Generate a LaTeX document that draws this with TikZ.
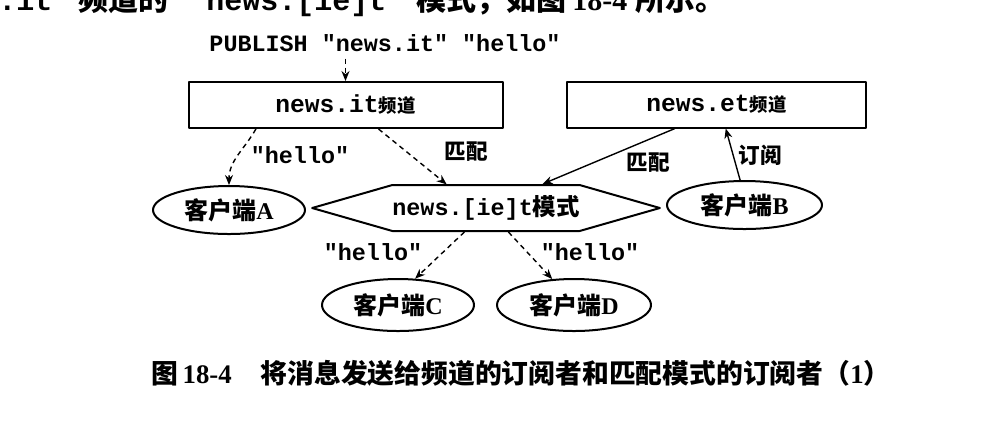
\documentclass[tikz,border=0pt]{standalone}
\usepackage{fontspec}
\setmainfont{Liberation Serif}
\setmonofont{Liberation Mono}
\newfontfamily\cjk{Noto Sans CJK SC}
\usetikzlibrary{arrows.meta,shapes.geometric,shapes.symbols}

\newcommand\zh[1]{{\cjk\bfseries #1}}
\newcommand\pindao{{\cjk\bfseries\fontsize{9.2}{10}\selectfont 频道}}
\newcommand\kehu[1]{\zh{客户端}\textbf{#1}}

\begin{document}
\begin{tikzpicture}[x=0.5pt, y=-0.5pt, line join=round,
		>={Stealth[length=5pt,width=4pt]},
		chan/.style={draw, line width=1pt, minimum width=157pt, minimum height=23pt,
			inner sep=0pt, font=\fontsize{12.3}{13}\selectfont\ttfamily\bfseries},
		client/.style={draw, ellipse, line width=1pt, minimum width=76pt,
			minimum height=24pt, inner sep=0pt, font=\fontsize{12}{12}\selectfont},
		patt/.style={draw, signal, signal to=west and east, signal pointer angle=32,
			line width=1pt, minimum width=161pt, minimum height=23pt, inner sep=0pt,
			font=\fontsize{11.7}{12}\selectfont\ttfamily\bfseries},
		msg/.style={->, dash pattern=on 2.5pt off 2pt, line width=0.7pt},
		link/.style={->, line width=0.7pt},
		code/.style={font=\fontsize{11.7}{12}\selectfont\ttfamily\bfseries},
		lbl/.style={font=\fontsize{10.8}{11}\selectfont\cjk\bfseries}]
	\useasboundingbox (0,0) rectangle (1002,420);
	% tail of the previous line of text, cut by the top edge
	\node[anchor=base west, inner sep=0pt, font=\fontsize{15}{15}\selectfont] (prev) at (-2,10)
		{\texttt{\bfseries .it"}\hspace{4pt}{\cjk\bfseries 频道的}\hspace{10pt}\texttt{\bfseries "news.[ie]t"}\hspace{6pt}{\cjk\bfseries 模式，如图}\hspace{3pt}\textbf{18-4}\hspace{4pt}{\cjk\bfseries 所示。}};
	% channels and pattern
	\node[code] (pub) at (385,43) {PUBLISH "news.it" "hello"};
	\node[chan] (itch) at (345.5,105) {news.it\pindao};
	\node[chan, minimum width=149.5pt] (etch) at (716.5,104.5) {news.et\pindao};
	\node[patt] (pat) at (486,208) {news.[ie]t\zh{模式}};
	% clients
	\node[client] (ca) at (229,210) {\kehu{A}};
	\node[client, minimum width=77.5pt] (cb) at (744.5,205) {\kehu{B}};
	\node[client, minimum height=26pt] (cc) at (398,305) {\kehu{C}};
	\node[client, minimum width=77pt, minimum height=26pt] (cd) at (574,305) {\kehu{D}};
	% connectors
	\draw[msg] (itch.north |- pub.south) -- (itch.north);
	\draw[msg] (itch.-165.3) to[out=-120,in=90] (ca.north);
	\draw[msg] (itch.-36.1) -- (pat.149.5);
	\draw[link] (etch.-150.3) -- (pat.23.1);
	\draw[link] (cb.100) -- (etch.-69.3);
	\draw[msg] (pat.-132.4) -- (cc.57);
	\draw[msg] (pat.-47.6) -- (cd.130);
	% labels
	\node[code] (hel1) at (300,155) {"hello"};
	\node[lbl] (mat1) at (466,152) {匹配};
	\node[lbl] (mat2) at (648,163) {匹配};
	\node[lbl] (sub1) at (760,155) {订阅};
	\node[code] (hel2) at (373,252) {"hello"};
	\node[code] (hel3) at (590,252) {"hello"};
	% caption
	\node[anchor=west, inner sep=0pt, font=\fontsize{13.4}{14}\selectfont] (cap) at (151,373)
		{\zh{图}\,\textbf{18-4}\hspace{14.5pt}\zh{将消息发送给频道的订阅者和匹配模式的订阅者（}\textbf{1}\zh{）}};
\end{tikzpicture}
\end{document}
